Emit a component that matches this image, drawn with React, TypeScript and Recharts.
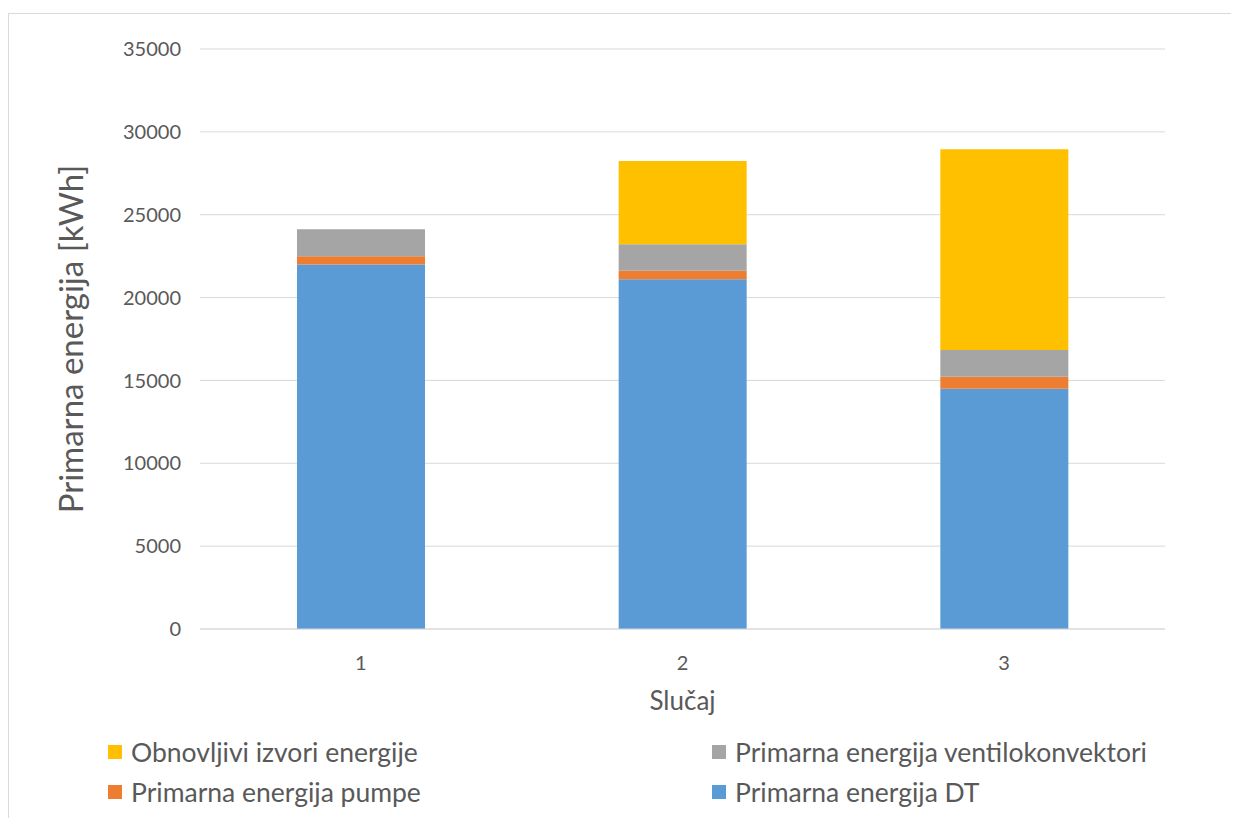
import { BarChart, Bar, XAxis, YAxis, CartesianGrid, Legend } from 'recharts';

// Slučaj 1..3, stacked primary energy [kWh]
const cases = ['1', '2', '3'];
const dtEnergy = [22000, 21100, 14500];
const pumpEnergy = [500, 520, 720];
const fanCoilEnergy = [1620, 1600, 1620];
const renewables = [0, 5020, 12110];
const yTicks = [0, 5000, 10000, 15000, 20000, 25000, 30000, 35000];

const COLORS = {
  dt: '#5B9BD5',
  pump: '#ED7D31',
  fan: '#A5A5A5',
  ren: '#FFC000',
};

const FONT = 'Lato, "Open Sans", sans-serif';
const TEXT = '#595959';

const data = cases.map((c, i) => ({
  name: c,
  dt: dtEnergy[i],
  pump: pumpEnergy[i],
  fan: fanCoilEnergy[i],
  ren: renewables[i],
}));

// legend order as in the original (Excel reverses the stack)
const legendItems = [
  { label: 'Obnovljivi izvori energije', color: COLORS.ren },
  { label: 'Primarna energija ventilokonvektori', color: COLORS.fan },
  { label: 'Primarna energija pumpe', color: COLORS.pump },
  { label: 'Primarna energija DT', color: COLORS.dt },
];

function LegendBox() {
  return (
    <div
      style={{
        display: 'grid',
        gridTemplateColumns: '604px 520px',
        gridAutoRows: 30,
        rowGap: 10,
        height: 80,
        boxSizing: 'border-box',
        paddingLeft: 99,
        paddingTop: 8,
        fontFamily: FONT,
        fontSize: 26.5,
        color: TEXT,
        textAlign: 'left',
      }}
    >
      {legendItems.map((it) => (
        <div key={it.label} style={{ display: 'flex', alignItems: 'center', height: 30, whiteSpace: 'nowrap' }}>
          <span style={{ width: 14, height: 14, background: it.color, marginRight: 9, display: 'inline-block', flexShrink: 0 }} />
          {it.label}
        </div>
      ))}
    </div>
  );
}

export default function App() {
  return (
    <div
      style={{
        marginTop: 5,
        width: 1229,
        height: 804,
        border: '1px solid #d9d9d9',
        borderBottom: 'none',
        background: '#fff',
      }}
    >
      <BarChart
        width={1229}
        height={804}
        data={data}
        barSize={128}
        margin={{ top: 35, right: 73, bottom: 9, left: 0 }}
      >
        <CartesianGrid vertical={false} stroke="#d9d9d9" />
        <XAxis
          dataKey="name"
          height={100}
          stroke="#d9d9d9"
          tickLine={false}
          tickMargin={21}
          tick={{ fill: TEXT, fontSize: 20, fontFamily: FONT }}
          label={(props: any) => {
            const vb = props.viewBox;
            return (
              <text
                x={vb.x + vb.width / 2}
                y={vb.y + 74}
                textAnchor="middle"
                dominantBaseline="middle"
                fill={TEXT}
                fontSize={26}
                fontFamily={FONT}
              >
                Slučaj
              </text>
            );
          }}
        />
        <YAxis
          width={191}
          domain={[0, 35000]}
          ticks={yTicks}
          axisLine={false}
          tickLine={false}
          tickSize={0}
          tickMargin={19}
          tick={{ fill: TEXT, fontSize: 20, fontFamily: FONT }}
          label={(props: any) => {
            const vb = props.viewBox;
            const cx = 66;
            const cy = vb.y + vb.height / 2;
            return (
              <text
                x={cx}
                y={cy}
                transform={`rotate(-90 ${cx} ${cy})`}
                textAnchor="middle"
                dominantBaseline="middle"
                fill={TEXT}
                fontSize={33}
                fontFamily={FONT}
              >
                Primarna energija [kWh]
              </text>
            );
          }}
        />
        <Legend verticalAlign="bottom" content={() => <LegendBox />} />
        <Bar dataKey="dt" stackId="a" fill={COLORS.dt} isAnimationActive={false} />
        <Bar dataKey="pump" stackId="a" fill={COLORS.pump} isAnimationActive={false} />
        <Bar dataKey="fan" stackId="a" fill={COLORS.fan} isAnimationActive={false} />
        <Bar dataKey="ren" stackId="a" fill={COLORS.ren} isAnimationActive={false} />
      </BarChart>
    </div>
  );
}
